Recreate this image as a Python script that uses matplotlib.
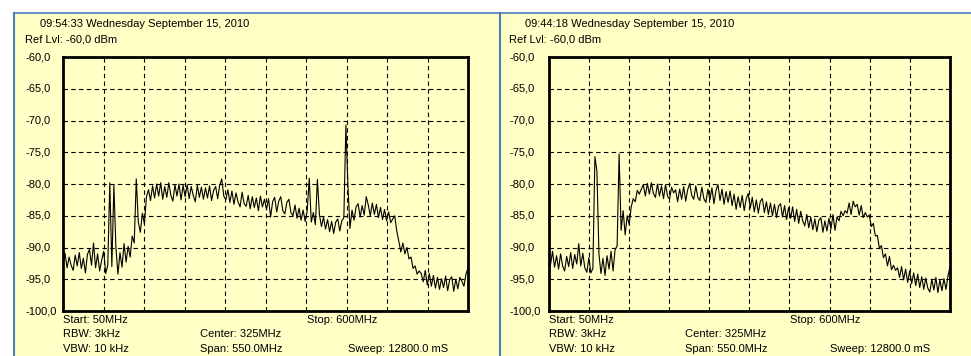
from matplotlib import pyplot as plt, transforms as mtransforms
from matplotlib.lines import Line2D
from matplotlib.patches import Rectangle
import numpy as np

plt.rcParams["font.family"] = ["Liberation Sans", "DejaVu Sans"]
plt.rcParams["font.size"] = 8

W, H = 971, 356
PANEL_BG = "#FFFFC6"
BORDER = "#4F7DB8"

# sweep settings (shared by both captures)
F_START, F_STOP, N_POINTS = 50, 600, 200
LEVEL_TICKS = [-60, -65, -70, -75, -80, -85, -90, -95, -100]
LEVEL_LABELS = ["-60,0", "-65,0", "-70,0", "-75,0", "-80,0", "-85,0", "-90,0", "-95,0", "-100,0"]

titles = [
    "09:54:33 Wednesday September 15, 2010",
    "09:44:18 Wednesday September 15, 2010",
]
ref_level = "Ref Lvl: -60,0 dBm"
footer = [
    ["Start: 50MHz", "Stop: 600MHz"],
    ["RBW: 3kHz", "Center: 325MHz"],
    ["VBW: 10 kHz", "Span: 550.0MHz", "Sweep: 12800.0 mS"],
]

# trace levels in dBm (200 sweep points each)
trace_a = [
    -92.4, -90.9, -93.2, -91.5, -92.8, -93.6, -91.2, -92.9, -90.8, -93.3,
    -91.7, -94.0, -91.1, -90.3, -92.8, -89.3, -93.2, -91.0, -93.7, -92.0,
    -90.6, -94.1, -92.8, -79.8, -93.0, -80.2, -90.0, -94.2, -90.8, -93.1,
    -89.4, -92.3, -89.8, -91.5, -88.2, -89.3, -79.2, -86.0, -87.6, -84.6,
    -86.3, -82.0, -80.9, -82.6, -80.3, -82.2, -80.0, -81.9, -79.8, -82.4,
    -80.4, -82.1, -79.8, -81.8, -82.7, -80.1, -81.9, -80.0, -82.5, -80.2,
    -82.0, -80.1, -82.3, -80.4, -81.8, -82.8, -80.2, -82.1, -80.5, -82.4,
    -80.6, -82.2, -80.3, -82.6, -81.0, -80.4, -82.3, -80.2, -79.2, -81.9,
    -82.5, -80.9, -82.9, -81.1, -83.2, -81.4, -82.8, -83.6, -81.3, -83.1,
    -83.5, -81.8, -83.9, -82.0, -83.7, -82.2, -84.2, -81.9, -83.6, -82.4,
    -84.0, -82.3, -85.2, -82.8, -82.1, -84.4, -82.7, -82.0, -84.2, -84.7,
    -82.9, -82.4, -84.5, -85.0, -83.3, -85.4, -83.8, -85.7, -84.1, -85.9,
    -84.2, -79.1, -86.0, -84.5, -86.4, -79.3, -84.8, -86.7, -85.2, -87.1,
    -85.6, -87.5, -85.9, -87.8, -86.0, -85.5, -87.4, -85.8, -85.3, -70.7,
    -80.2, -87.0, -84.1, -85.7, -83.6, -83.1, -85.2, -83.4, -84.9, -82.0,
    -83.3, -85.0, -83.0, -84.8, -83.2, -85.3, -83.7, -85.6, -84.0, -85.8,
    -84.4, -86.1, -85.5, -85.0, -87.4, -89.0, -90.7, -89.3, -91.0, -90.0,
    -91.8, -91.5, -93.3, -92.9, -94.2, -93.7, -94.1, -95.4, -93.6, -95.9,
    -94.1, -96.1, -94.4, -96.4, -94.7, -96.6, -94.9, -96.3, -94.5, -96.8,
    -95.1, -94.6, -96.9, -95.0, -96.5, -94.7, -95.3, -96.1, -94.2, -93.2,
]
trace_b = [
    -91.0, -92.7, -90.6, -93.1, -91.3, -93.4, -91.0, -92.9, -93.7, -91.4,
    -93.0, -90.8, -93.3, -91.1, -92.6, -89.4, -92.9, -90.9, -93.2, -93.9,
    -91.6, -94.0, -93.3, -75.7, -78.0, -91.0, -94.1, -91.7, -94.4, -91.3,
    -93.4, -90.6, -93.7, -90.3, -89.8, -75.3, -87.3, -84.2, -88.0, -85.0,
    -86.4, -83.6, -82.3, -82.8, -81.0, -81.6, -80.8, -80.1, -81.9, -79.9,
    -81.6, -79.8, -81.5, -82.1, -80.0, -81.9, -80.3, -82.3, -80.1, -81.9,
    -82.4, -80.5, -81.4, -80.9, -82.8, -80.8, -82.4, -80.4, -82.7, -80.9,
    -79.9, -81.8, -82.4, -80.3, -82.1, -82.6, -80.5, -82.3, -82.9, -80.8,
    -82.5, -80.6, -83.1, -81.0, -80.1, -82.6, -80.8, -83.2, -81.2, -82.9,
    -81.1, -83.4, -81.6, -84.0, -82.0, -83.7, -81.8, -84.2, -82.3, -81.5,
    -83.8, -82.1, -84.4, -82.5, -84.6, -82.7, -82.3, -84.5, -82.8, -84.8,
    -83.0, -85.0, -83.2, -85.3, -83.5, -83.1, -85.2, -83.4, -85.6, -83.7,
    -85.4, -83.6, -85.9, -84.0, -86.2, -84.3, -85.8, -86.6, -84.8, -86.9,
    -85.2, -87.2, -85.5, -87.5, -85.7, -85.3, -87.6, -85.8, -87.4, -85.4,
    -87.1, -84.8, -87.3, -85.2, -85.8, -84.3, -85.0, -84.2, -84.6, -83.0,
    -84.8, -82.7, -83.6, -83.2, -84.9, -83.4, -85.3, -84.5, -85.2, -84.9,
    -86.7, -86.2, -88.2, -88.1, -90.1, -89.7, -91.6, -91.0, -92.9, -91.4,
    -93.5, -92.8, -93.6, -93.2, -94.7, -93.0, -95.1, -93.4, -95.5, -93.7,
    -95.7, -94.0, -96.0, -94.2, -96.3, -94.6, -96.6, -94.8, -96.4, -97.0,
    -95.0, -96.7, -94.7, -97.1, -95.1, -96.8, -94.9, -96.6, -94.5, -93.0,
]


def fx(px):
    return px / W


def fy(py):
    return 1 - py / H


def draw_panel(fig, x0, x1, ax_left, ax_right, label_x, title_x, cols, title, levels):
    fig.patches.append(Rectangle((fx(x0), 0), fx(x1 - x0), fy(13), transform=fig.transFigure,
                                 facecolor=PANEL_BG, edgecolor="none", zorder=-2))
    fig.lines.append(Line2D([fx(x0), fx(x0)], [0, fy(13)], transform=fig.transFigure,
                            color=BORDER, lw=1.5, zorder=-1))
    fig.lines.append(Line2D([fx(x0), fx(x1)], [fy(13), fy(13)], transform=fig.transFigure,
                            color=BORDER, lw=1.2, zorder=-1))

    ax = fig.add_axes([fx(ax_left), fy(311), fx(ax_right - ax_left), fy(57) - fy(311)])
    ax.set_facecolor(PANEL_BG)
    freqs = np.linspace(F_START, F_STOP, N_POINTS)
    ax.plot(freqs, levels, color="black", lw=0.8)
    ax.set_xlim(F_START, F_STOP)
    ax.set_ylim(-100, -60)
    ax.set_xticks(np.linspace(F_START, F_STOP, 11))
    ax.set_yticks(LEVEL_TICKS)
    ax.tick_params(length=0, labelbottom=False, labelleft=False)
    ax.grid(True, color="black", lw=0.8, linestyle=(0, (4, 3)))
    for sp in ax.spines.values():
        sp.set_linewidth(2)
        sp.set_color("black")

    trans = mtransforms.blended_transform_factory(fig.transFigure, ax.transData)
    for lvl, lab in zip(LEVEL_TICKS, LEVEL_LABELS):
        ax.text(fx(label_x), lvl, lab, transform=trans, ha="left", va="center", clip_on=False)

    fig.text(fx(title_x), fy(24), title, ha="left", va="center")
    fig.text(fx(label_x), fy(39), ref_level, ha="left", va="center")

    rows_y = [320, 334, 349]
    for row, xs, y in zip(footer, cols, rows_y):
        for txt, x in zip(row, xs):
            fig.text(fx(x), fy(y), txt, ha="left", va="center")
    return ax


fig = plt.figure(figsize=(W / 100, H / 100), dpi=100, facecolor="white")

draw_panel(fig, 14, 500, 63, 468, 25, 40,
           [[63, 307], [63, 200], [63, 200, 348]],
           titles[0], trace_a)
draw_panel(fig, 500, 971, 548.5, 950, 509, 525,
           [[549, 790], [549, 685], [549, 685, 830]],
           titles[1], trace_b)

fig.savefig("out.png", dpi=100, facecolor="white")
